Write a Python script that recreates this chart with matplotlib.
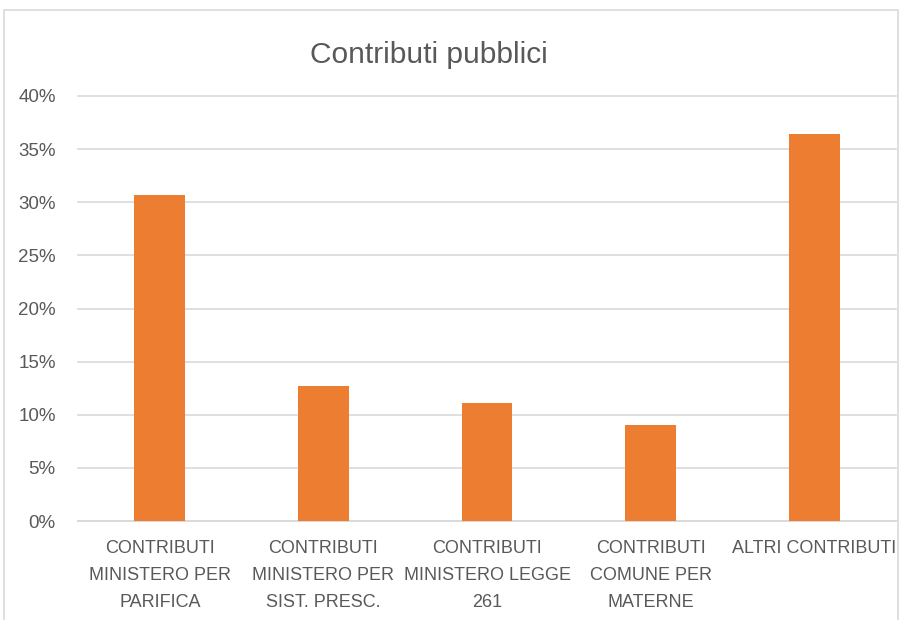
import matplotlib.pyplot as plt
from matplotlib.patches import Rectangle
from matplotlib.ticker import FuncFormatter

categories = [
    'CONTRIBUTI\nMINISTERO PER\nPARIFICA',
    'CONTRIBUTI\nMINISTERO PER\nSIST. PRESC.',
    'CONTRIBUTI\nMINISTERO LEGGE\n261',
    'CONTRIBUTI\nCOMUNE PER\nMATERNE',
    'ALTRI CONTRIBUTI',
]
shares = [0.307, 0.127, 0.111, 0.090, 0.364]
y_ticks = [0.0, 0.05, 0.10, 0.15, 0.20, 0.25, 0.30, 0.35, 0.40]

TEXT_C = '#595959'
GRID_C = '#d9d9d9'
BAR_C = '#ed7d31'

plt.rcParams['font.family'] = ['Liberation Sans Narrow', 'DejaVu Sans Condensed',
                               'Liberation Sans', 'DejaVu Sans']

fig = plt.figure(figsize=(9.04, 6.2), dpi=100)
# chart border, like the office chart frame
fig.patches.append(Rectangle((4 / 904, -0.05), 894 / 904, 1.05 - 10 / 620,
                             transform=fig.transFigure, fill=False,
                             ec=GRID_C, lw=1.2))

ax = fig.add_axes([78 / 904, 1 - 521 / 620, 818 / 904, 425 / 620])
x = list(range(len(categories)))
ax.bar(x, shares, width=0.31, color=BAR_C, zorder=3)

ax.set_xlim(-0.5, len(categories) - 0.5)
ax.set_ylim(0, 0.4)
ax.set_yticks(y_ticks)
ax.yaxis.set_major_formatter(FuncFormatter(lambda v, _: f'{v * 100:.0f}%'))
ax.set_xticks(x)
ax.set_xticklabels(categories, linespacing=1.75)

ax.grid(axis='y', color=GRID_C, lw=1.2, zorder=0, clip_on=False)
for s in ['top', 'right', 'left']:
    ax.spines[s].set_visible(False)
ax.spines['bottom'].set_color(GRID_C)
ax.spines['bottom'].set_linewidth(1.2)
ax.tick_params(axis='both', length=0, colors=TEXT_C, labelsize=13)
ax.tick_params(axis='y', pad=16, labelsize=13.5)
ax.tick_params(axis='x', pad=14)

fig.text(429 / 904, 1 - 55 / 620, 'Contributi pubblici', ha='center', va='center',
         fontsize=21.5, color=TEXT_C)

fig.savefig('out.png', dpi=100)
